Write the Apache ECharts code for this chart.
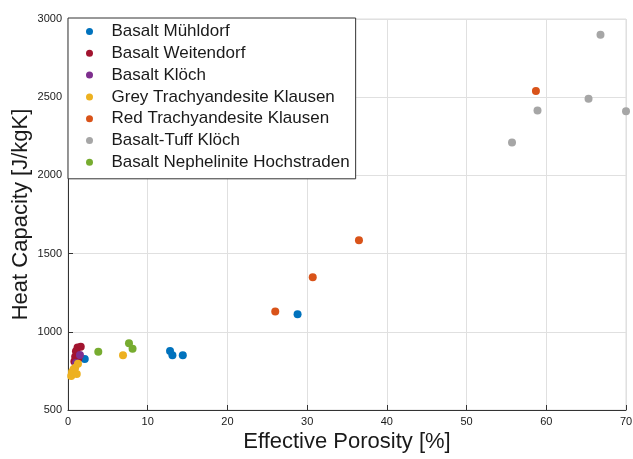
<!DOCTYPE html>
<html>
<head>
<meta charset="utf-8">
<script src="https://cdn.jsdelivr.net/npm/echarts@6/dist/echarts.min.js"></script>
<style>
  html, body { margin: 0; padding: 0; background: #fff; }
  #chart { width: 633px; height: 459px; }
</style>
</head>
<body>
<div id="chart"></div>
<script>
// porosity [%] and heat capacity [J/kgK]
const muehldorfX = [2.1, 12.8, 13.1, 14.4, 28.8];
const muehldorfY = [826, 877, 850, 850, 1112];
const weitendorfX = [1.2, 1.6, 1.0, 0.9, 1.3, 0.8];
const weitendorfY = [900, 905, 875, 840, 830, 810];
const kloechX = [1.5, 1.0];
const kloechY = [852, 800];
const greyX = [0.4, 0.5, 0.7, 0.9, 1.25, 1.1, 6.9];
const greyY = [717, 743, 760, 770, 795, 730, 850];
const redX = [26.0, 30.7, 36.5, 58.7];
const redY = [1130, 1348, 1585, 2540];
const tuffX = [55.7, 58.9, 65.3, 66.8, 70.0];
const tuffY = [2210, 2415, 2490, 2900, 2410];
const hochX = [3.8, 7.65, 8.1];
const hochY = [873, 926, 892];

const seriesNames = ['Basalt Mühldorf', 'Basalt Weitendorf', 'Basalt Klöch',
  'Grey Trachyandesite Klausen', 'Red Trachyandesite Klausen', 'Basalt-Tuff Klöch',
  'Basalt Nephelinite Hochstraden'];
const seriesX = [muehldorfX, weitendorfX, kloechX, greyX, redX, tuffX, hochX];
const seriesY = [muehldorfY, weitendorfY, kloechY, greyY, redY, tuffY, hochY];
const colors = ['#0072BD', '#A2142F', '#7E2F8E', '#EDB120', '#D95319', '#A6A6A6', '#77AC30'];

const xTicks = [0, 10, 20, 30, 40, 50, 60, 70];
const yTicks = [500, 1000, 1500, 2000, 2500, 3000];

const font = 'Liberation Sans, Arial, Helvetica, sans-serif';

const chart = echarts.init(document.getElementById('chart'));
chart.setOption({
  animation: false,
  color: colors,
  grid: {
    left: 68, right: 7, top: 19, bottom: 49,
    outerBoundsMode: 'none',
    containLabel: false,
    show: true, borderColor: '#dcdcdc', borderWidth: 1
  },
  legend: {
    orient: 'vertical',
    left: 68, top: 18,
    data: seriesNames,
    icon: 'circle',
    itemWidth: 34, itemHeight: 7,
    itemGap: 4.8,
    padding: [5, 6, 8, 18],
    backgroundColor: '#fff',
    borderColor: '#333',
    borderWidth: 1,
    textStyle: { fontFamily: font, fontSize: 17, color: '#1a1a1a', lineHeight: 15 }
  },
  xAxis: {
    type: 'value',
    min: xTicks[0], max: xTicks[xTicks.length - 1], interval: 10,
    name: 'Effective Porosity [%]',
    nameLocation: 'middle', nameGap: 21,
    nameMoveOverlap: false,
    nameTextStyle: { fontFamily: font, fontSize: 22, color: '#1a1a1a' },
    axisLine: { lineStyle: { color: '#333', width: 1 } },
    axisTick: { inside: true, length: 5, lineStyle: { color: '#333' } },
    axisLabel: { fontFamily: font, fontSize: 11, color: '#1a1a1a', margin: 6, formatter: v => String(v) },
    splitLine: { show: true, lineStyle: { color: '#e0e0e0' } }
  },
  yAxis: {
    type: 'value',
    min: yTicks[0], max: yTicks[yTicks.length - 1], interval: 500,
    name: 'Heat Capacity [J/kgK]',
    nameLocation: 'middle', nameGap: 36, nameRotate: 90,
    nameMoveOverlap: false,
    nameTextStyle: { fontFamily: font, fontSize: 22, color: '#1a1a1a' },
    axisLine: { show: true, lineStyle: { color: '#333', width: 1 } },
    axisTick: { show: true, inside: true, length: 5, lineStyle: { color: '#333' } },
    axisLabel: { fontFamily: font, fontSize: 11, color: '#1a1a1a', margin: 6, formatter: v => String(v) },
    splitLine: { show: true, lineStyle: { color: '#e0e0e0' } }
  },
  series: seriesNames.map((name, i) => ({
    name: name,
    type: 'scatter',
    symbolSize: 8,
    itemStyle: { opacity: 1 },
    data: seriesX[i].map((x, j) => [x, seriesY[i][j]]),
    clip: false,
    z: 3
  }))
});
</script>
</body>
</html>
